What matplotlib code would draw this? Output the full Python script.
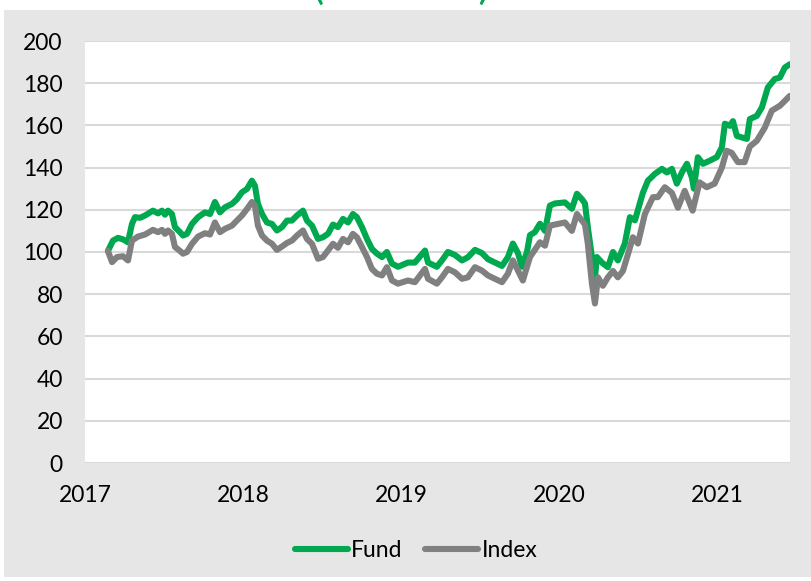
import numpy as np
import matplotlib.pyplot as plt
from matplotlib.patches import Rectangle

plt.rcParams['font.family'] = ['Lato', 'DejaVu Sans']

# dates as decimal years (rebased to 100)
fund_t = [2017.145, 2017.177, 2017.209, 2017.240, 2017.272, 2017.297, 2017.316, 2017.348, 2017.380, 2017.430,
          2017.462, 2017.487, 2017.506, 2017.525, 2017.550, 2017.569, 2017.601, 2017.620, 2017.645, 2017.677,
          2017.715, 2017.759, 2017.791, 2017.822, 2017.854, 2017.886, 2017.930, 2017.961, 2017.993, 2018.025,
          2018.056, 2018.075, 2018.094, 2018.120, 2018.151, 2018.183, 2018.214, 2018.246, 2018.278, 2018.309,
          2018.341, 2018.379, 2018.404, 2018.436, 2018.474, 2018.505, 2018.537, 2018.569, 2018.600, 2018.632,
          2018.664, 2018.695, 2018.720, 2018.752, 2018.784, 2018.815, 2018.847, 2018.879, 2018.910, 2018.942,
          2018.980, 2019.043, 2019.087, 2019.151, 2019.170, 2019.226, 2019.258, 2019.296, 2019.340, 2019.385,
          2019.422, 2019.467, 2019.511, 2019.549, 2019.593, 2019.638, 2019.675, 2019.707, 2019.739, 2019.764,
          2019.796, 2019.815, 2019.846, 2019.878, 2019.910, 2019.941, 2019.973, 2020.036, 2020.080, 2020.112,
          2020.144, 2020.163, 2020.181, 2020.207, 2020.219, 2020.238, 2020.276, 2020.308, 2020.340, 2020.371,
          2020.415, 2020.447, 2020.479, 2020.529, 2020.561, 2020.605, 2020.650, 2020.681, 2020.713, 2020.744,
          2020.776, 2020.808, 2020.839, 2020.852, 2020.877, 2020.909, 2020.953, 2020.997, 2021.029, 2021.048,
          2021.080, 2021.099, 2021.124, 2021.156, 2021.187, 2021.206, 2021.250, 2021.282, 2021.320, 2021.364,
          2021.396, 2021.427, 2021.459]
fund_v = [100.5, 105.4, 106.7, 106.0, 104.6, 113.3, 116.5, 116.2, 117.3, 119.6,
          118.3, 119.6, 117.7, 119.6, 118.0, 111.8, 109.4, 107.8, 108.6, 113.3,
          116.5, 118.8, 118.0, 123.7, 118.8, 121.2, 122.8, 125.0, 128.3, 129.9,
          133.8, 131.4, 122.8, 118.0, 114.0, 113.3, 110.2, 111.8, 114.9, 114.9,
          117.3, 119.6, 114.9, 112.5, 106.2, 107.0, 108.6, 113.0, 111.8, 115.7,
          114.0, 118.0, 116.5, 111.8, 106.2, 101.5, 99.2, 97.6, 100.0, 94.5,
          93.0, 95.0, 95.0, 100.7, 95.0, 93.0, 96.0, 100.0, 98.6, 96.0,
          97.5, 101.0, 99.5, 96.6, 95.0, 93.4, 97.5, 104.0, 99.5, 93.0,
          100.0, 108.0, 109.4, 113.4, 110.0, 122.0, 123.0, 123.5, 120.5, 127.6,
          125.0, 123.0, 111.7, 97.6, 82.0, 97.6, 94.6, 92.8, 100.0, 96.0,
          104.0, 116.5, 115.0, 128.0, 133.8, 137.0, 139.4, 137.7, 139.4, 132.4,
          137.7, 141.8, 135.4, 130.0, 144.9, 141.8, 143.3, 145.0, 149.6, 160.8,
          159.8, 162.0, 155.0, 154.3, 153.6, 163.0, 164.5, 168.5, 178.0, 182.0,
          182.7, 187.4, 189.0]

index_t = [2017.145, 2017.171, 2017.202, 2017.240, 2017.272, 2017.297, 2017.335, 2017.380, 2017.430, 2017.462,
           2017.487, 2017.506, 2017.525, 2017.550, 2017.569, 2017.601, 2017.620, 2017.645, 2017.677, 2017.715,
           2017.759, 2017.791, 2017.822, 2017.854, 2017.886, 2017.930, 2017.961, 2017.993, 2018.025, 2018.056,
           2018.075, 2018.094, 2018.120, 2018.151, 2018.183, 2018.214, 2018.246, 2018.278, 2018.309, 2018.341,
           2018.379, 2018.404, 2018.436, 2018.474, 2018.505, 2018.537, 2018.569, 2018.600, 2018.632, 2018.664,
           2018.695, 2018.720, 2018.752, 2018.784, 2018.815, 2018.847, 2018.879, 2018.910, 2018.942, 2018.980,
           2019.043, 2019.087, 2019.151, 2019.170, 2019.226, 2019.258, 2019.296, 2019.340, 2019.385, 2019.422,
           2019.467, 2019.511, 2019.549, 2019.593, 2019.638, 2019.675, 2019.707, 2019.739, 2019.770, 2019.815,
           2019.878, 2019.910, 2019.941, 2020.036, 2020.080, 2020.112, 2020.163, 2020.181, 2020.207, 2020.226,
           2020.245, 2020.276, 2020.308, 2020.340, 2020.371, 2020.403, 2020.447, 2020.466, 2020.498, 2020.542,
           2020.561, 2020.593, 2020.624, 2020.668, 2020.713, 2020.751, 2020.794, 2020.844, 2020.888, 2020.933,
           2020.983, 2021.029, 2021.059, 2021.091, 2021.130, 2021.173, 2021.206, 2021.250, 2021.301, 2021.345,
           2021.396, 2021.427, 2021.459]
index_v = [100.5, 95.2, 97.6, 98.0, 96.0, 105.4, 107.3, 108.3, 110.5, 109.4,
           110.5, 108.6, 110.2, 108.6, 102.4, 100.5, 99.2, 100.0, 103.9, 107.3,
           108.9, 108.3, 114.0, 109.4, 111.0, 112.5, 114.9, 117.3, 120.4, 123.7,
           122.0, 112.5, 107.8, 105.4, 103.9, 101.0, 102.6, 104.3, 105.4, 107.8,
           110.2, 106.2, 103.9, 96.8, 97.6, 100.7, 103.9, 102.0, 106.2, 104.6,
           108.6, 107.0, 102.4, 97.6, 92.0, 89.7, 88.9, 92.8, 86.5, 85.0,
           86.5, 85.7, 92.0, 87.3, 85.0, 88.0, 92.0, 90.4, 87.3, 88.0,
           92.8, 91.2, 88.9, 87.3, 85.7, 89.7, 96.0, 91.2, 86.5, 97.6,
           104.6, 103.0, 112.5, 114.0, 110.0, 118.0, 113.0, 104.0, 85.0, 75.6,
           88.0, 84.0, 88.0, 91.0, 88.0, 91.0, 102.0, 107.0, 104.0, 118.0,
           121.0, 126.0, 126.0, 130.7, 128.0, 121.0, 129.0, 119.6, 133.0, 130.7,
           132.4, 140.0, 148.0, 147.0, 142.6, 142.6, 150.0, 152.7, 159.0, 167.0,
           169.3, 171.6, 174.0]

years = [2017, 2018, 2019, 2020, 2021]
yticks = [0, 20, 40, 60, 80, 100, 120, 140, 160, 180, 200]

green = '#00a94f'
grey = '#808080'

fig = plt.figure(figsize=(8.11, 5.81), dpi=100)
fig.patch.set_facecolor('white')
fig.patches.append(Rectangle((4 / 811, 4 / 581), 1, 567 / 581, transform=fig.transFigure,
                             facecolor='#e6e6e6', edgecolor='none', zorder=-5))

ax = fig.add_axes([85 / 811, 118 / 581, 705 / 811, 422 / 581])
ax.set_zorder(2)
ax.set_facecolor('white')
ax.plot(fund_t, fund_v, color=green, lw=4.4, solid_joinstyle='round', solid_capstyle='round', label='Fund')
ax.plot(index_t, index_v, color=grey, lw=4.4, solid_joinstyle='round', solid_capstyle='round', label='Index')

ax.set_xlim(2017, 2021.46)
ax.set_ylim(0, 200)
ax.set_xticks(years)
ax.set_xticklabels([str(y) for y in years])
ax.set_yticks(yticks)
ax.yaxis.grid(True, color='#d9d9d9', lw=1.5)
ax.set_axisbelow(True)
for s in ax.spines.values():
    s.set_visible(False)
ax.tick_params(axis='both', length=0, labelsize=16.5, colors='black')
ax.tick_params(axis='y', pad=16)
ax.tick_params(axis='x', pad=16)

leg = fig.legend(loc='center', bbox_to_anchor=(0.513, 0.053), ncol=2, frameon=False,
                 fontsize=16.5, handlelength=2.3, handletextpad=0.15, columnspacing=1.0)

# title sits mostly above the canvas, only the bottom of the brackets shows
fig.text(0.494, 1.002, '(Rebased)', color=green, fontsize=30, ha='center', va='baseline')

plt.savefig('out.png', dpi=100)
